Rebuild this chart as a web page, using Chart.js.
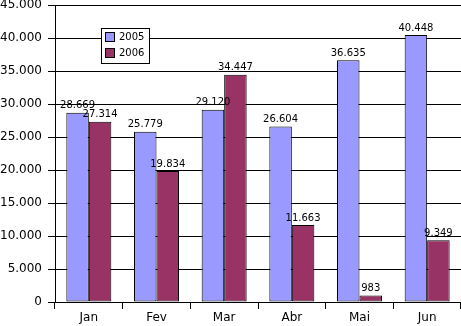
<!DOCTYPE html>
<html>
<head>
<meta charset="utf-8">
<script src="https://cdn.jsdelivr.net/npm/chart.js@4/dist/chart.umd.min.js"></script>
<style>
  html, body { margin: 0; padding: 0; background: #fff; }
  #wrap { width: 461px; height: 326px; }
</style>
</head>
<body>
<div id="wrap"><canvas id="c" width="461" height="326"></canvas></div>
<script>
// Monthly totals, first half of 2005 vs 2006
const months = ['Jan', 'Fev', 'Mar', 'Abr', 'Mai', 'Jun'];
const series2005 = [28669, 25779, 29120, 26604, 36635, 40448];
const series2006 = [27314, 19834, 34447, 11663, 983, 9349];
const seriesLabels = ['2005', '2006'];
const yMax = 45000;
const yStep = 5000;

const FONT = 'DejaVu Sans, Verdana, sans-serif';

// Portuguese-style thousands separator: 45.000
function fmt(v) {
  return String(Math.round(v)).replace(/\B(?=(\d{3})+(?!\d))/g, '.');
}

// Value label above each bar
const barValueLabels = {
  id: 'barValueLabels',
  afterDatasetsDraw(chart) {
    const ctx = chart.ctx;
    ctx.save();
    ctx.font = '10px ' + FONT;
    ctx.fillStyle = '#000';
    ctx.textAlign = 'center';
    ctx.textBaseline = 'bottom';
    chart.data.datasets.forEach((ds, di) => {
      const meta = chart.getDatasetMeta(di);
      meta.data.forEach((bar, i) => {
        ctx.fillText(fmt(ds.data[i]), bar.x, bar.y - 2);
      });
    });
    ctx.restore();
  }
};

// Boxed legend inside the plot area
const boxLegend = {
  id: 'boxLegend',
  afterDraw(chart) {
    const ctx = chart.ctx;
    const bx = 101.5, by = 28.5, bw = 48, bh = 35;
    ctx.save();
    ctx.fillStyle = '#fff';
    ctx.fillRect(bx, by, bw, bh);
    ctx.strokeStyle = '#000';
    ctx.lineWidth = 1;
    ctx.strokeRect(bx, by, bw, bh);
    ctx.font = '10px ' + FONT;
    ctx.textAlign = 'left';
    ctx.textBaseline = 'middle';
    chart.data.datasets.forEach((ds, i) => {
      const sy = 32.5 + i * 16;
      ctx.fillStyle = ds.backgroundColor;
      ctx.fillRect(105.5, sy, 9, 9);
      ctx.strokeStyle = '#000';
      ctx.strokeRect(105.5, sy, 9, 9);
      ctx.fillStyle = '#000';
      ctx.fillText(ds.label, 119, sy + 5);
    });
    ctx.restore();
  }
};

new Chart(document.getElementById('c'), {
  type: 'bar',
  data: {
    labels: months,
    datasets: [
      {
        label: seriesLabels[0],
        data: series2005,
        backgroundColor: '#9999FF',
        borderColor: '#000',
        borderWidth: 1,
        borderSkipped: false
      },
      {
        label: seriesLabels[1],
        data: series2006,
        backgroundColor: '#993366',
        borderColor: '#000',
        borderWidth: 1,
        borderSkipped: false
      }
    ]
  },
  options: {
    responsive: false,
    animation: false,
    devicePixelRatio: 1,
    layout: { padding: { top: 0, right: 0, bottom: 0, left: 0 } },
    datasets: {
      bar: { categoryPercentage: 0.665, barPercentage: 1 }
    },
    plugins: {
      legend: { display: false },
      tooltip: { enabled: false }
    },
    scales: {
      x: {
        grid: {
          offset: true,
          drawOnChartArea: false,
          drawTicks: true,
          tickLength: 7,
          color: '#000',
          lineWidth: 1
        },
        border: { display: true, color: '#000', width: 1 },
        ticks: {
          color: '#000',
          font: { family: FONT, size: 12, lineHeight: 1.2 },
          padding: 2,
          maxRotation: 0
        },
        afterFit(scale) {
          scale.height = 24;
          scale.paddingLeft = 0;
          scale.paddingRight = 0;
        }
      },
      y: {
        min: 0,
        max: yMax,
        grid: {
          drawOnChartArea: true,
          drawTicks: true,
          tickLength: 7,
          color: '#000',
          lineWidth: 1
        },
        border: { display: true, color: '#000', width: 1 },
        ticks: {
          stepSize: yStep,
          color: '#000',
          padding: 6,
          font: { family: FONT, size: 12, lineHeight: 0.8 },
          callback: (v) => fmt(v)
        },
        afterFit(scale) {
          scale.width = 55;
          scale.paddingTop = 5;
          scale.paddingBottom = 0;
        }
      }
    }
  },
  plugins: [barValueLabels, boxLegend]
});
</script>
</body>
</html>
